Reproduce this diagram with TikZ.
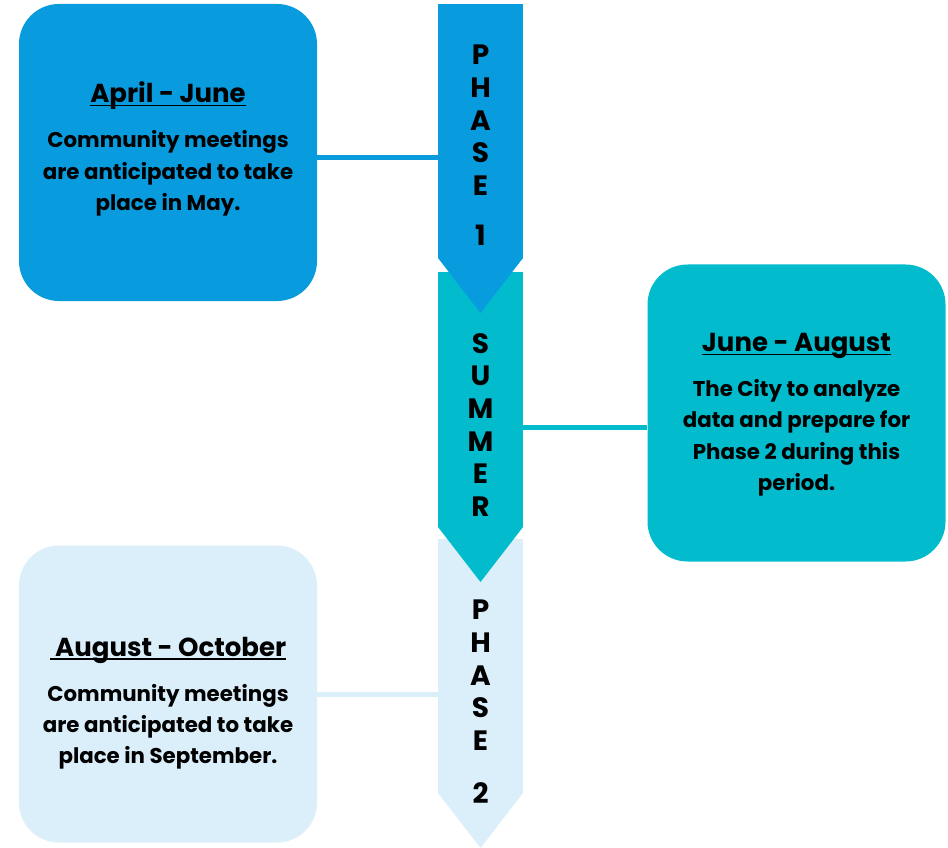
\documentclass[tikz,border=0pt]{standalone}
\usepackage{fontspec}
\setmainfont{Poppins}
\usepackage{tikz}
\usetikzlibrary{positioning}
\definecolor{phaseblue}{RGB}{8,155,222}
\definecolor{summerteal}{RGB}{2,188,205}
\definecolor{phaselight}{RGB}{219,239,251}
\tikzstyle{card} = [rounded corners=30pt,minimum width=223.5pt,minimum height=222.75pt,inner sep=0pt]
\tikzstyle{cardtext} = [inner sep=0pt,align=center,font=\bfseries\fontsize{16}{23.6}\selectfont]
\tikzstyle{shaft} = [minimum width=63.75pt,inner sep=0pt,outer sep=0pt]
\tikzstyle{vtext} = [align=center,inner sep=0pt,font=\bfseries\fontsize{21}{24.5}\selectfont]
\tikzstyle{link} = [line width=3.75pt]
\newcommand{\cardtitle}[1]{{\fontsize{19.5}{24}\selectfont\setbox0=\hbox{#1}\rlap{\rule[-2.6pt]{\wd0}{1.2pt}}\box0}}

\begin{document}
\begin{tikzpicture}[x=0.75pt,y=-0.75pt]
\useasboundingbox (0,0) rectangle (948,848);

%Nodes
\node [shaft,fill=phaselight,minimum height=190.5pt] (ph2) at (480.5,666) {};
\fill[phaselight] (ph2.south west) -- (ph2.south east) -- ([yshift=-41.25pt]ph2.south) -- cycle;
\node [shaft,fill=summerteal,minimum height=191.25pt] (summer) at (480.5,399.5) {};
\fill[summerteal] (summer.south west) -- (summer.south east) -- ([yshift=-41.25pt]summer.south) -- cycle;
\node [shaft,fill=phaseblue,minimum height=190.5pt] (ph1) at (480.5,131) {};
\fill[phaseblue] (ph1.south west) -- (ph1.south east) -- ([yshift=-41.25pt]ph1.south) -- cycle;

\node [vtext,below=30.75pt of ph1.north] (ph1txt) {P\\H\\A\\S\\E\\[13pt]1};
\node [vtext,below=45.75pt of summer.north] (summertxt) {S\\U\\M\\M\\E\\R};
\node [vtext,below=45.75pt of ph2.north] (ph2txt) {P\\H\\A\\S\\E\\[15pt]2};

\node [card,fill=phaseblue] (aprjun) at (168,152.5) {};
\node [card,fill=summerteal] (junaug) at (796.5,413) {};
\node [card,fill=phaselight] (augoct) at (168,694) {};

\node [cardtext] (aprjuntxt) at ([yshift=2.5pt]aprjun.center) {\cardtitle{April - June}\\[10pt]Community meetings\\are anticipated to take\\place in May.};
\node [cardtext] (junaugtxt) at ([yshift=-1.5pt]junaug.center) {\cardtitle{June - August}\\[10pt]The City to analyze\\data and prepare for\\Phase 2 during this\\period.};
\node [cardtext] (augocttxt) at ([yshift=-7pt]augoct.center) {\cardtitle{\ August - October}\\[10pt]Community meetings\\are anticipated to take\\place in September.};

%Lines
\draw[link,phaseblue] ([yshift=-4.1pt]aprjun.east) -- ([yshift=-4.1pt]aprjun.east -| ph1.west);
\draw[link,summerteal] ([yshift=-10.5pt]junaug.west) -- ([yshift=-10.5pt]junaug.west -| summer.east);
\draw[link,phaselight] (augoct.east) -- (augoct.east -| ph2.west);

\end{tikzpicture}
\end{document}
